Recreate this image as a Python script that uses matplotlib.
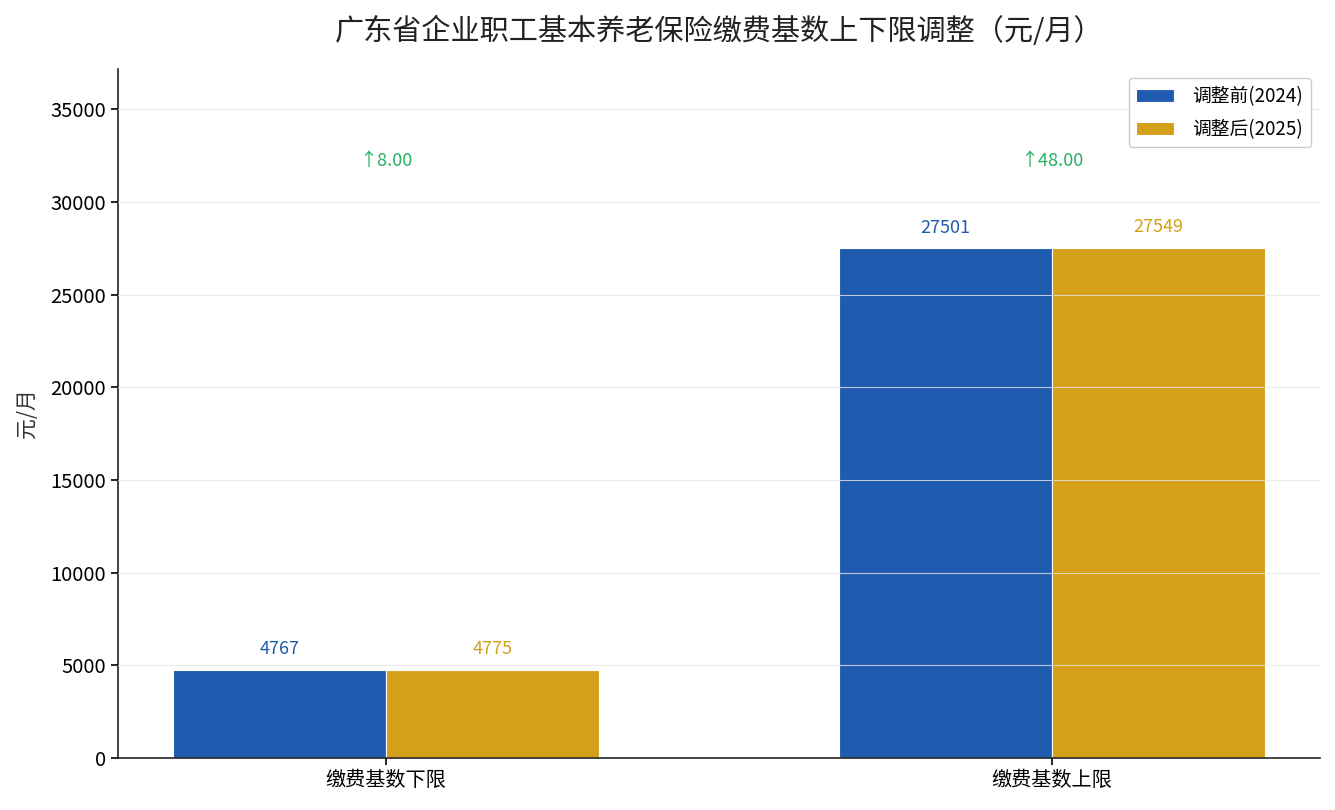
import matplotlib
matplotlib.use('Agg')
import matplotlib.pyplot as plt
import numpy as np

plt.rcParams['font.family'] = ['Noto Sans CJK SC', 'DejaVu Sans']
plt.rcParams['axes.unicode_minus'] = False

# 数据
categories = ['缴费基数下限', '缴费基数上限']
before_2024 = [4767, 27501]
after_2025 = [4775, 27549]
series_names = ['调整前(2024)', '调整后(2025)']

blue = '#1f5baf'
gold = '#d4a01a'
green = '#27b062'

x = np.arange(len(categories))
width = 0.32

fig, ax = plt.subplots(figsize=(13.35, 8.1), dpi=100)
fig.subplots_adjust(left=0.0884, right=0.9888, top=0.915, bottom=0.064)

bars1 = ax.bar(x - width / 2, before_2024, width, color=blue, edgecolor='white',
               linewidth=0.8, label=series_names[0], zorder=2)
bars2 = ax.bar(x + width / 2, after_2025, width, color=gold, edgecolor='white',
               linewidth=0.8, label=series_names[1], zorder=2)

ymax = max(after_2025) * 1.35
ax.set_ylim(0, ymax)

# 数值标签
for bars, c in ((bars1, blue), (bars2, gold)):
    for b in bars:
        h = b.get_height()
        ax.annotate(f'{h:.0f}', (b.get_x() + b.get_width() / 2, h),
                    xytext=(0, 15), textcoords='offset points',
                    ha='center', va='center', fontsize=13, color=c)

# 涨幅标注
for i in range(len(categories)):
    diff = after_2025[i] - before_2024[i]
    ax.text(x[i], max(after_2025) * 1.17, f'↑{diff:.2f}', ha='center', va='center',
            fontsize=13, color=green, family=['Noto Sans CJK SC', 'DejaVu Sans'])

ax.set_title('广东省企业职工基本养老保险缴费基数上下限调整（元/月）',
             fontsize=21, pad=21, color='#222222')
ax.set_ylabel('元/月', fontsize=15, color='#333333', labelpad=9)
ax.set_xticks(x)
ax.set_xticklabels(categories, fontsize=14.5)
ax.set_yticks(np.arange(0, 35001, 5000))
ax.tick_params(axis='y', labelsize=14.5)
ax.tick_params(length=5, width=1.2)

ax.grid(axis='y', color='#e6e6e6', linewidth=0.8, alpha=0.8, zorder=3)
ax.set_axisbelow(False)
for s in ('top', 'right'):
    ax.spines[s].set_visible(False)
for s in ('left', 'bottom'):
    ax.spines[s].set_color('#222222')
    ax.spines[s].set_linewidth(1.2)

ax.legend(loc='upper right', fontsize=13.5, framealpha=1, edgecolor='#cccccc',
          labelspacing=0.65, handlelength=2.0, handletextpad=1.0)

fig.savefig('out.png', dpi=100)
